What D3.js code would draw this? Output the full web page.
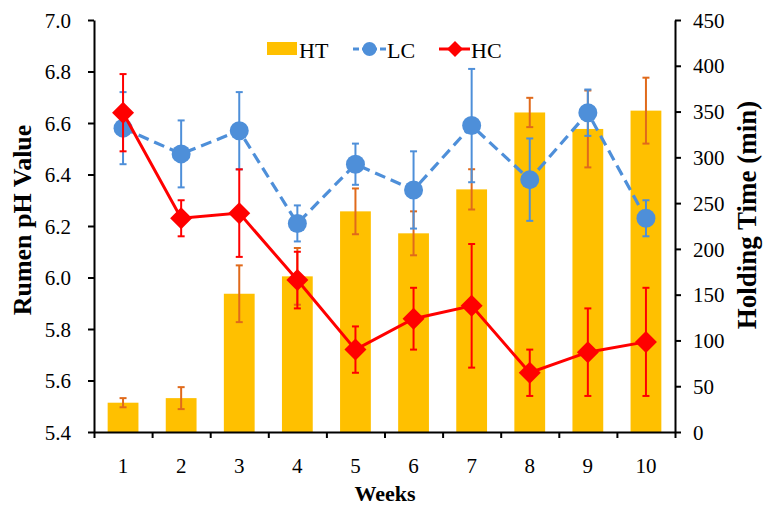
<!DOCTYPE html>
<html>
<head>
<meta charset="utf-8">
<script src="https://cdn.jsdelivr.net/npm/d3@7"></script>
<style>
  html, body { margin: 0; padding: 0; background: #fff; }
  svg { display: block; }
  text { font-family: "Liberation Serif", "Times New Roman", serif; fill: #000; }
</style>
</head>
<body>
<svg id="chart" width="767" height="507"></svg>
<script>
// Weekly rumen pH (LC, HC) and holding time (HT)
const weeks = [1, 2, 3, 4, 5, 6, 7, 8, 9, 10];
const htValues = [32, 37, 151, 170, 241, 217, 265, 349, 331, 351];
const htErrors = [5, 12, 31, 31, 25, 24, 22, 16, 42, 36];
const lcValues = [6.58, 6.48, 6.57, 6.21, 6.44, 6.34, 6.59, 6.38, 6.64, 6.23];
const lcErrors = [0.14, 0.13, 0.15, 0.07, 0.08, 0.15, 0.22, 0.16, 0.09, 0.07];
const hcValues = [6.64, 6.23, 6.25, 5.99, 5.72, 5.84, 5.89, 5.63, 5.71, 5.75];
const hcErrors = [0.15, 0.07, 0.17, 0.11, 0.09, 0.12, 0.24, 0.09, 0.17, 0.21];
const phTicks = [5.4, 5.6, 5.8, 6.0, 6.2, 6.4, 6.6, 6.8, 7.0];
const timeTicks = [0, 50, 100, 150, 200, 250, 300, 350, 400, 450];

const colors = { HT: "#FFC000", htErr: "#E06A1B", LC: "#4E8FD9", HC: "#FF0000" };

const svg = d3.select("#chart");
const m = { left: 94, right: 675, top: 20, bottom: 432 };

const x = d3.scaleBand().domain(weeks).range([m.left, m.right]).paddingInner(0.47).paddingOuter(0.235);
const xEdge = d3.scaleLinear().domain([0, weeks.length]).range([m.left, m.right]);
const yPh = d3.scaleLinear().domain([5.4, 7.0]).range([m.bottom, m.top]);
const yTime = d3.scaleLinear().domain([0, 450]).range([m.bottom, m.top]);
const cx = w => x(w) + x.bandwidth() / 2;

// Bars: holding time
svg.append("g").selectAll("rect").data(weeks).join("rect")
  .attr("x", w => x(w)).attr("width", x.bandwidth())
  .attr("y", (w, i) => yTime(htValues[i]))
  .attr("height", (w, i) => yTime(0) - yTime(htValues[i]))
  .attr("fill", colors.HT);

function errorBars(values, errors, scale, color, width) {
  const g = svg.append("g").attr("stroke", color).attr("stroke-width", width).attr("fill", "none");
  weeks.forEach((w, i) => {
    const xc = cx(w), y1 = scale(values[i] + errors[i]), y2 = scale(values[i] - errors[i]);
    g.append("line").attr("x1", xc).attr("x2", xc).attr("y1", y1).attr("y2", y2);
    g.append("line").attr("x1", xc - 3.5).attr("x2", xc + 3.5).attr("y1", y1).attr("y2", y1);
    g.append("line").attr("x1", xc - 3.5).attr("x2", xc + 3.5).attr("y1", y2).attr("y2", y2);
  });
}
errorBars(htValues, htErrors, yTime, colors.htErr, 2);

// LC series: dashed line with circles
errorBars(lcValues, lcErrors, yPh, colors.LC, 2);
const line = d3.line().x((d, i) => cx(weeks[i])).y(d => yPh(d));
svg.append("path").datum(lcValues).attr("d", line)
  .attr("fill", "none").attr("stroke", colors.LC).attr("stroke-width", 3.2)
  .attr("stroke-dasharray", "11,6");
svg.append("g").selectAll("circle").data(lcValues).join("circle")
  .attr("cx", (d, i) => cx(weeks[i])).attr("cy", d => yPh(d)).attr("r", 9.5)
  .attr("fill", colors.LC);

// HC series: solid line with diamonds
errorBars(hcValues, hcErrors, yPh, colors.HC, 2);
svg.append("path").datum(hcValues).attr("d", line)
  .attr("fill", "none").attr("stroke", colors.HC).attr("stroke-width", 3);
const diamond = (px, py, r) => `M${px},${py - r}L${px + r},${py}L${px},${py + r}L${px - r},${py}Z`;
svg.append("g").selectAll("path").data(hcValues).join("path")
  .attr("d", (d, i) => diamond(cx(weeks[i]), yPh(d), 11))
  .attr("fill", colors.HC);

// Axes
function styleAxis(g) {
  g.selectAll("path.domain").attr("stroke", "#000").attr("stroke-width", 2);
  g.selectAll(".tick line").attr("stroke", "#000").attr("stroke-width", 2);
  g.selectAll(".tick text").style("font-size", "21px").style("font-family", '"Liberation Serif", serif');
}

svg.append("g").attr("transform", `translate(${m.left},0)`)
  .call(d3.axisLeft(yPh).tickValues(phTicks).tickFormat(d3.format(".1f")).tickSize(6).tickSizeOuter(0).tickPadding(17))
  .call(styleAxis).call(g => g.selectAll(".tick text").attr("dy", "0.34em"));

svg.append("g").attr("transform", `translate(${m.right},0)`)
  .call(d3.axisRight(yTime).tickValues(timeTicks).tickSize(6).tickSizeOuter(0).tickPadding(12))
  .call(styleAxis).call(g => g.selectAll(".tick text").attr("dy", "0.34em"));

// Category boundary ticks on the x axis
svg.append("g").attr("transform", `translate(0,${m.bottom})`)
  .call(d3.axisBottom(xEdge).ticks(10).tickFormat("").tickSize(6).tickSizeOuter(0))
  .call(styleAxis);
// Week labels centred under each bar
svg.append("g").attr("transform", `translate(0,${m.bottom})`)
  .call(d3.axisBottom(x).tickSize(0).tickPadding(26))
  .call(g => g.select("path.domain").remove())
  .call(styleAxis);

// Axis titles
svg.append("text").attr("x", 385).attr("y", 501).attr("text-anchor", "middle")
  .style("font-size", "22px").style("font-weight", "bold").text("Weeks");
svg.append("text").attr("transform", "translate(31,220) rotate(-90)").attr("text-anchor", "middle")
  .style("font-size", "26px").style("font-weight", "bold").text("Rumen pH Value");
svg.append("text").attr("transform", "translate(756,215) rotate(-90)").attr("text-anchor", "middle")
  .style("font-size", "27px").style("font-weight", "bold").text("Holding Time (min)");

// Legend
const lg = svg.append("g").style("font-size", "22px");
lg.append("rect").attr("x", 267).attr("y", 42).attr("width", 30).attr("height", 13).attr("fill", colors.HT);
lg.append("text").attr("x", 299).attr("y", 58).text("HT");
lg.append("line").attr("x1", 353).attr("x2", 386).attr("y1", 49).attr("y2", 49)
  .attr("stroke", colors.LC).attr("stroke-width", 3).attr("stroke-dasharray", "6,3");
lg.append("circle").attr("cx", 369.5).attr("cy", 49).attr("r", 7).attr("fill", colors.LC);
lg.append("text").attr("x", 387).attr("y", 58).text("LC");
lg.append("line").attr("x1", 439).attr("x2", 470).attr("y1", 49).attr("y2", 49)
  .attr("stroke", colors.HC).attr("stroke-width", 3);
lg.append("path").attr("d", diamond(455, 49, 8)).attr("fill", colors.HC);
lg.append("text").attr("x", 471).attr("y", 58).text("HC");
</script>
</body>
</html>
